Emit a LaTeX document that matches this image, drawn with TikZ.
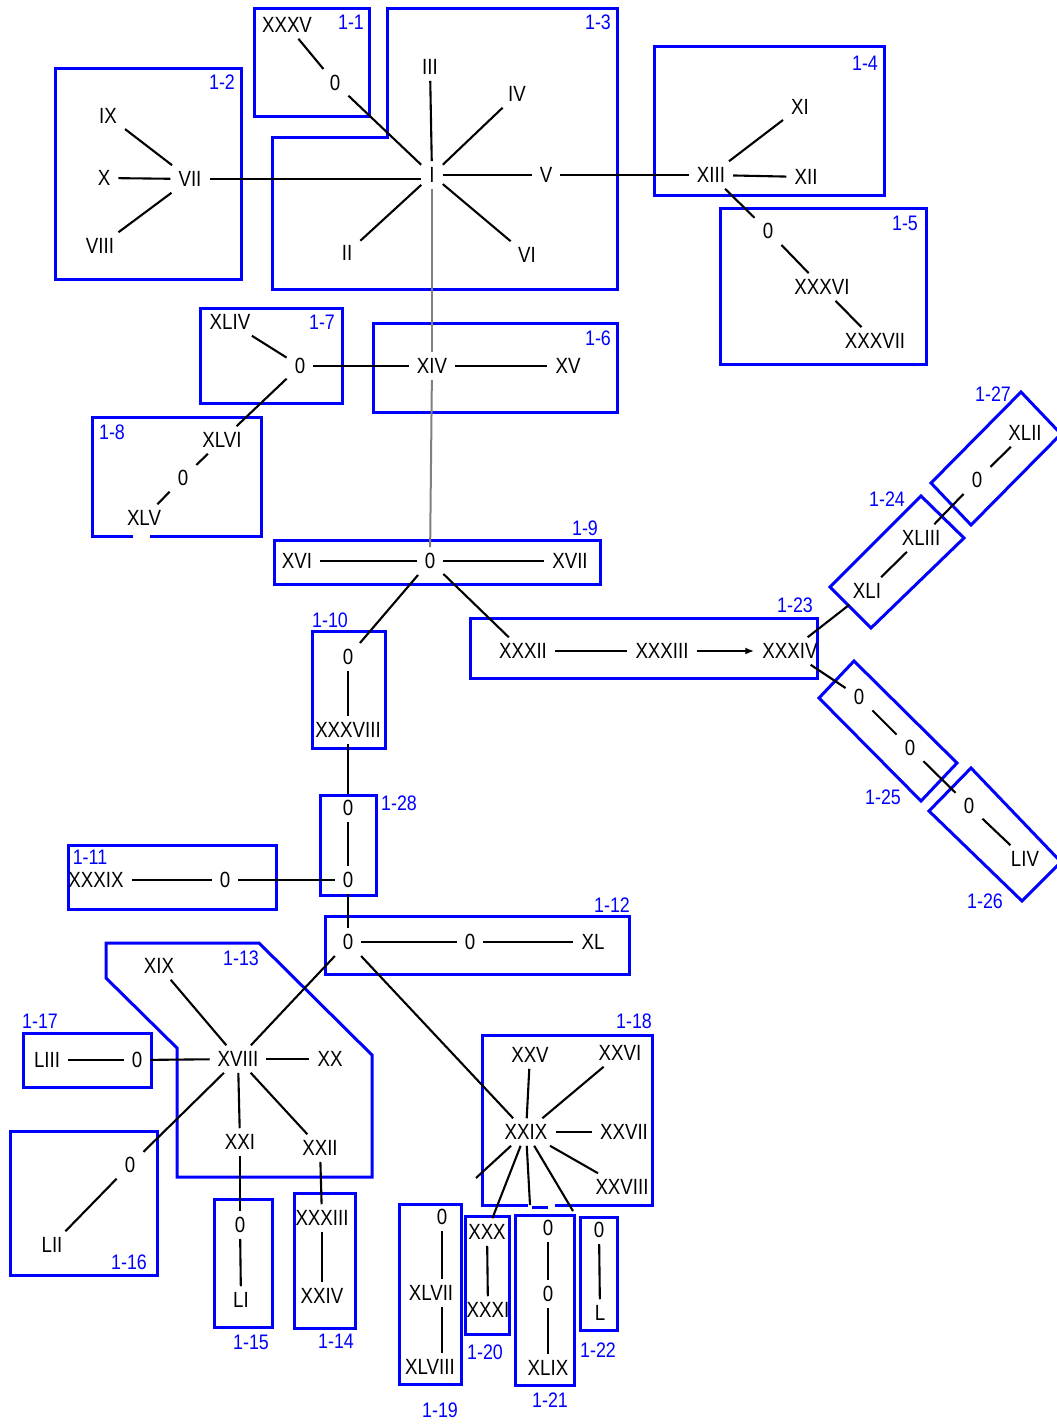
\documentclass[tikz,border=0pt]{standalone}
\usepackage{fontspec}
\setmainfont[FakeStretch=0.85]{Liberation Sans}
\usetikzlibrary{arrows.meta}
\begin{document}
\begin{tikzpicture}[x=1pt,y=-1pt,
  t/.style={font=\fontsize{22}{24}\selectfont, inner xsep=8pt, inner ysep=6pt},
  lbl/.style={font=\fontsize{21}{23}\selectfont, text=blue, inner sep=0pt},
  grp/.style={draw=blue, line width=3pt, line join=miter},
  ln/.style={draw=black, line width=2.1pt},
  gln/.style={draw=gray, line width=2pt}]
\useasboundingbox (0,0) rectangle (1057,1424);
\fill[white] (0,0) rectangle (1057,1424);

% ---------- group boxes ----------
\draw[grp] (254,8) rectangle (369,116);
\draw[grp] (55,68) rectangle (241,279);
\draw[grp] (387,8) -- (617,8) -- (617,289) -- (272,289) -- (272,137) -- (387,137) -- cycle;
\draw[grp] (654,46) rectangle (884,195);
\draw[grp] (720,208) rectangle (926,364);
\draw[grp] (373,323) rectangle (617,412);
\draw[grp] (200,308) rectangle (342,403);
\draw[grp] (133,536) -- (92,536) -- (92,417) -- (261,417) -- (261,536) -- (150,536);
\draw[grp] (274,540) rectangle (600,584);
\draw[grp] (312,631) rectangle (385,748);
\draw[grp] (320,795) rectangle (376,895);
\draw[grp] (68,845) rectangle (276,909);
\draw[grp] (325,916) rectangle (629,974);
\draw[grp] (106,943) -- (259,943) -- (372,1055) -- (372,1177) -- (177,1177) -- (177,1048) -- (106,978) -- cycle;
\draw[grp] (23,1033) rectangle (151,1087);
\draw[grp] (10,1131) rectangle (157,1275);
\draw[grp] (214,1199) rectangle (272,1327);
\draw[grp] (294,1193) rectangle (355,1328);
\draw[grp] (528,1205) -- (482,1205) -- (482,1035) -- (652,1035) -- (652,1205) -- (555,1205);
\draw[grp] (532,1207) -- (548,1207);
\draw[grp] (399,1204) rectangle (461,1384);
\draw[grp] (465,1216) rectangle (509,1334);
\draw[grp] (515,1215) rectangle (574,1385);
\draw[grp] (580,1217) rectangle (617,1330);
\draw[grp] (470,618) rectangle (817,678);
\draw[grp] (921,496) -- (964,538) -- (871,628) -- (830,587) -- cycle;
\draw[grp] (1021,392) -- (1061,434) -- (971,525) -- (931,483) -- cycle;
\draw[grp] (854,661) -- (957,763) -- (921,801) -- (819,698) -- cycle;
\draw[grp] (971,768) -- (1061,862) -- (1022,901) -- (929,811) -- cycle;

% ---------- group labels ----------
\node[lbl] (g1) at (351,22) {1-1};
\node[lbl] (g2) at (222,82) {1-2};
\node[lbl] (g3) at (598,22) {1-3};
\node[lbl] (g4) at (865,63) {1-4};
\node[lbl] (g5) at (905,223) {1-5};
\node[lbl] (g6) at (598,338) {1-6};
\node[lbl] (g7) at (322,322) {1-7};
\node[lbl] (g8) at (112,432) {1-8};
\node[lbl] (g9) at (585,528) {1-9};
\node[lbl] (g10) at (330,620) {1-10};
\node[lbl] (g11) at (90,857) {1-11};
\node[lbl] (g12) at (612,905) {1-12};
\node[lbl] (g13) at (241,958) {1-13};
\node[lbl] (g14) at (336,1341) {1-14};
\node[lbl] (g15) at (251,1342) {1-15};
\node[lbl] (g16) at (129,1262) {1-16};
\node[lbl] (g17) at (40,1021) {1-17};
\node[lbl] (g18) at (634,1021) {1-18};
\node[lbl] (g19) at (440,1410) {1-19};
\node[lbl] (g20) at (485,1352) {1-20};
\node[lbl] (g21) at (550,1400) {1-21};
\node[lbl] (g22) at (598,1350) {1-22};
\node[lbl] (g23) at (795,605) {1-23};
\node[lbl] (g24) at (887,499) {1-24};
\node[lbl] (g25) at (883,797) {1-25};
\node[lbl] (g26) at (985,901) {1-26};
\node[lbl] (g27) at (993,394) {1-27};
\node[lbl] (g28) at (399,803) {1-28};

% ---------- vertices ----------
\node[t] (nXXXV) at (287,25) {XXXV};
\node[t] (z1) at (335,83) {0};
\node[t] (nIX) at (108,116) {IX};
\node[t] (nX) at (104,178) {X};
\node[t] (nVII) at (190,179) {VII};
\node[t] (nVIII) at (100,246) {VIII};
\node[t] (nI) at (432,175) {I};
\node[t] (nIII) at (430,67) {III};
\node[t] (nIV) at (517,94) {IV};
\node[t] (nV) at (546,175) {V};
\node[t] (nVI) at (527,255) {VI};
\node[t] (nII) at (347,253) {II};
\node[t] (nXIII) at (711,175) {XIII};
\node[t] (nXI) at (800,107) {XI};
\node[t] (nXII) at (806,177) {XII};
\node[t] (z5) at (768,231) {0};
\node[t] (nXXXVI) at (822,287) {XXXVI};
\node[t] (nXXXVII) at (875,341) {XXXVII};
\node[t] (nXIV) at (432,366) {XIV};
\node[t] (nXV) at (568,366) {XV};
\node[t] (nXLIV) at (230,322) {XLIV};
\node[t] (z7) at (300,366) {0};
\node[t] (nXLVI) at (222,440) {XLVI};
\node[t] (z8) at (183,478) {0};
\node[t] (nXLV) at (144,518) {XLV};
\node[t] (nXVI) at (297,561) {XVI};
\node[t] (z9) at (430,561) {0};
\node[t] (nXVII) at (570,561) {XVII};
\node[t] (z10) at (348,657) {0};
\node[t] (nXXXVIII) at (348,730) {XXXVIII};
\node[t] (z28a) at (348,808) {0};
\node[t] (z28b) at (348,880) {0};
\node[t] (nXXXIX) at (96,880) {XXXIX};
\node[t] (z11) at (225,880) {0};
\node[t] (z12a) at (348,942) {0};
\node[t] (z12b) at (470,942) {0};
\node[t] (nXL) at (593,942) {XL};
\node[t] (nXIX) at (159,966) {XIX};
\node[t] (nXVIII) at (238,1059) {XVIII};
\node[t] (nXX) at (330,1059) {XX};
\node[t] (nXXI) at (240,1142) {XXI};
\node[t] (nXXII) at (320,1148) {XXII};
\node[t] (nLIII) at (47,1060) {LIII};
\node[t] (z17) at (137,1060) {0};
\node[t] (z16) at (130,1165) {0};
\node[t] (nLII) at (52,1245) {LII};
\node[t] (z15) at (240,1225) {0};
\node[t] (nLI) at (241,1300) {LI};
\node[t] (nXXXIIIb) at (322,1218) {XXXIII};
\node[t] (nXXIV) at (322,1296) {XXIV};
\node[t] (nXXV) at (530,1055) {XXV};
\node[t] (nXXVI) at (620,1053) {XXVI};
\node[t] (nXXIX) at (526,1132) {XXIX};
\node[t] (nXXVII) at (624,1132) {XXVII};
\node[t] (nXXVIII) at (622,1187) {XXVIII};
\node[t] (z19) at (442,1217) {0};
\node[t] (nXLVII) at (431,1293) {XLVII};
\node[t] (nXLVIII) at (430,1367) {XLVIII};
\node[t] (nXXX) at (487,1232) {XXX};
\node[t] (nXXXI) at (488,1310) {XXXI};
\node[t] (z21a) at (548,1228) {0};
\node[t] (z21b) at (548,1294) {0};
\node[t] (nXLIX) at (548,1368) {XLIX};
\node[t] (z22) at (599,1230) {0};
\node[t] (nL) at (600,1313) {L};
\node[t] (nXXXII) at (523,651) {XXXII};
\node[t] (nXXXIIIa) at (662,651) {XXXIII};
\node[t] (nXXXIV) at (790,651) {XXXIV};
\node[t] (nXLIII) at (921,538) {XLIII};
\node[t] (nXLI) at (867,591) {XLI};
\node[t] (z27) at (977,480) {0};
\node[t] (nXLII) at (1025,433) {XLII};
\node[t] (z25a) at (859,697) {0};
\node[t] (z25b) at (910,748) {0};
\node[t] (z26) at (969,806) {0};
\node[t] (nLIV) at (1025,859) {LIV};

\coordinate (e1) at (476,1178);
\coordinate (e2) at (530,1205);
\coordinate (e3) at (573,1211);

% ---------- connectors ----------
\draw[ln] (nXXXV) -- (z1);
\draw[ln] (z1) -- (nI);
\draw[ln] (nIX) -- (nVII);
\draw[ln] (nX) -- (nVII);
\draw[ln] (nVIII) -- (nVII);
\draw[ln] (nVII.east) -- (nVII.east -| nI.west);
\draw[ln] (nI) -- (nIII);
\draw[ln] (nI) -- (nIV);
\draw[ln] (nI) -- (nV);
\draw[ln] (nI) -- (nVI);
\draw[ln] (nI) -- (nII);
\draw[gln] (nI) -- (nXIV);
\draw[ln] (nV) -- (nXIII);
\draw[ln] (nXIII) -- (nXI);
\draw[ln] (nXIII) -- (nXII);
\draw[ln] (nXIII) -- (z5);
\draw[ln] (z5) -- (nXXXVI);
\draw[ln] (nXXXVI) -- (nXXXVII);
\draw[ln] (nXIV) -- (nXV);
\draw[gln] (nXIV) -- (z9);
\draw[ln] (nXLIV) -- (z7);
\draw[ln] (z7) -- (nXIV);
\draw[ln] (z7) -- (nXLVI);
\draw[ln] (nXLVI) -- (z8);
\draw[ln] (z8) -- (nXLV);
\draw[ln] (nXVI) -- (z9);
\draw[ln] (z9) -- (nXVII);
\draw[ln] (z9) -- (z10);
\draw[ln] (z9) -- (nXXXII);
\draw[ln] (z10) -- (nXXXVIII);
\draw[ln] (nXXXVIII) -- (z28a);
\draw[ln] (z28a) -- (z28b);
\draw[ln] (nXXXIX) -- (z11);
\draw[ln] (z11) -- (z28b);
\draw[ln] (z28b) -- (z12a);
\draw[ln] (z12a) -- (z12b);
\draw[ln] (z12b) -- (nXL);
\draw[ln] (z12a) -- (nXVIII);
\draw[ln] (z12a) -- (nXXIX);
\draw[ln] (nXIX) -- (nXVIII);
\draw[ln] (nXVIII) -- (nXX);
\draw[ln] (nXVIII) -- (nXXI);
\draw[ln] (nXVIII) -- (nXXII);
\draw[ln] (z17) -- (nXVIII);
\draw[ln] (nLIII) -- (z17);
\draw[ln] (nXVIII) -- (z16);
\draw[ln] (z16) -- (nLII);
\draw[ln] (nXXI) -- (z15);
\draw[ln] (z15) -- (nLI);
\draw[ln] (nXXII) -- (nXXXIIIb);
\draw[ln] (nXXXIIIb) -- (nXXIV);
\draw[ln] (nXXV) -- (nXXIX);
\draw[ln] (nXXVI) -- (nXXIX);
\draw[ln] (nXXIX) -- (nXXVII);
\draw[ln] (nXXIX) -- (nXXVIII);
\draw[ln] (nXXIX) -- (e1);
\draw[ln] (nXXIX) -- (nXXX);
\draw[ln] (nXXIX) -- (e2);
\draw[ln] (nXXIX) -- (e3);
\draw[ln] (z19) -- (z19 |- nXLVII.north);
\draw[ln] (nXLVII.south -| z19) -- (z19 |- nXLVIII.north);
\draw[ln] (nXXX) -- (nXXXI);
\draw[ln] (z21a) -- (z21b);
\draw[ln] (z21b) -- (nXLIX);
\draw[ln] (z22) -- (nL);
\draw[ln] (nXXXII) -- (nXXXIIIa);
\draw[ln, -{Latex[length=9pt,width=7pt]}] (nXXXIIIa) -- (nXXXIV);
\draw[ln] (nXXXIV) -- (nXLI);
\draw[ln] (nXLI) -- (nXLIII);
\draw[ln] (nXLIII) -- (z27);
\draw[ln] (z27) -- (nXLII);
\draw[ln] (nXXXIV) -- (z25a);
\draw[ln] (z25a) -- (z25b);
\draw[ln] (z25b) -- (z26);
\draw[ln] (z26) -- (nLIV);
\end{tikzpicture}
\end{document}
